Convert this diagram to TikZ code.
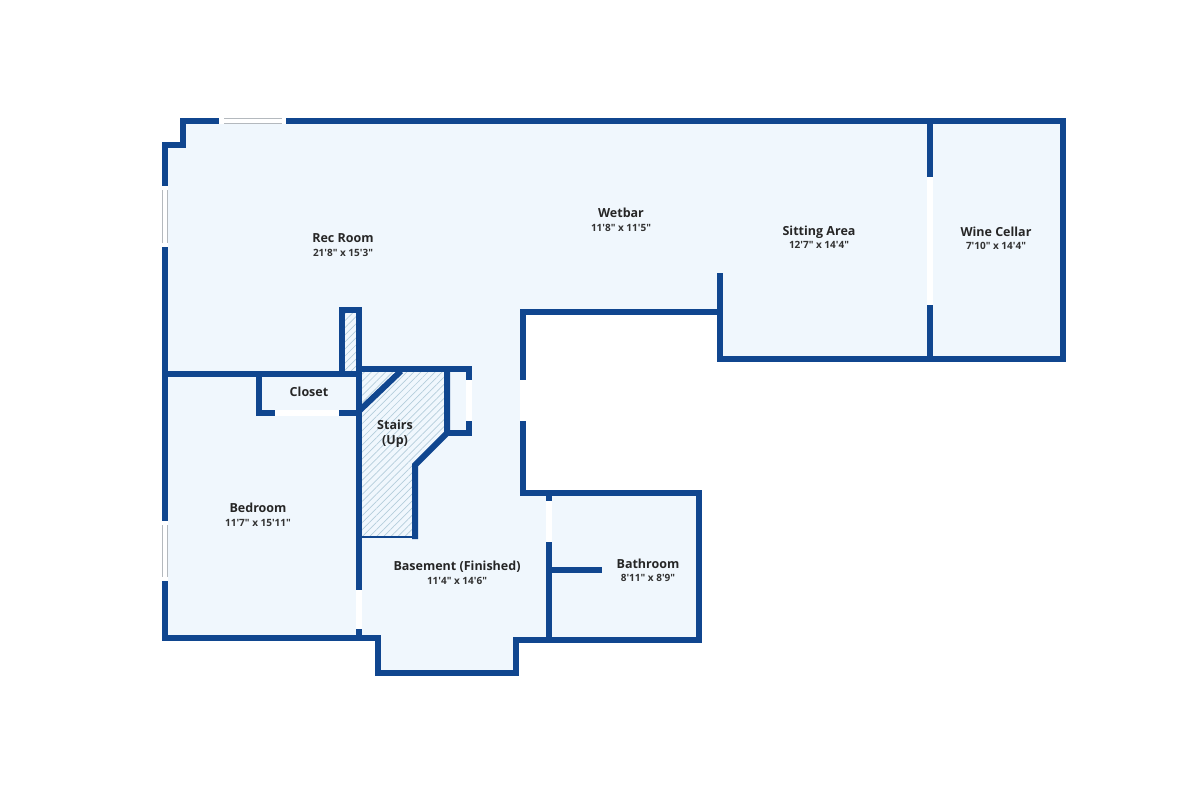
\documentclass[tikz,border=0pt]{standalone}
\usepackage{fontspec}
\setmainfont{Open Sans}[Ligatures=TeXOff]
\usetikzlibrary{patterns.meta}
\definecolor{wallblue}{HTML}{10468F}
\definecolor{floorblue}{HTML}{F0F7FD}
\definecolor{hatchblue}{HTML}{B4CEDB}
\definecolor{glassgrey}{HTML}{B4B9BE}
\tikzset{
  wall/.style={draw=wallblue,line width=6pt,line join=miter},
  thinwall/.style={draw=wallblue,line width=1.6pt},
  gap/.style={draw=white,line width=6.5pt},
  glass/.style={draw=glassgrey,line width=1pt,double=white,double distance=3.2pt},
  hatch/.style={pattern={Lines[angle=45,distance=5pt,line width=.7pt]},pattern color=hatchblue},
  room/.style={font=\fontsize{12.5}{14}\selectfont\bfseries,text=black!85,inner sep=0pt},
  size/.style={font=\fontsize{10}{11}\selectfont\bfseries,text=black!80,inner sep=0pt},
}
\begin{document}
\begin{tikzpicture}[x=1pt,y=-1pt]
\useasboundingbox (0,0) rectangle (1200,800);
\fill[white] (0,0) rectangle (1200,800);
%
\fill[floorblue] (183,121) -- (1063,121) -- (1063,359) -- (720,359) -- (720,312) -- (523,312) -- (523,493) -- (699,493) -- (699,640) -- (516,640) -- (516,673) -- (378,673) -- (378,638) -- (165,638) -- (165,145) -- (183,145) -- cycle;
%
\fill[hatch] (342,310) rectangle (359,374);
\fill[hatch] (359,369) -- (447,369) -- (447,433) -- (415,465) -- (415,537) -- (359,537) -- cycle;
%
\draw[wall] (720,273) -- (720,359) -- (1063,359) -- (1063,121) -- (183,121) -- (183,145) -- (165,145) -- (165,638) -- (378,638) -- (378,673) -- (516,673) -- (516,640) -- (699,640) -- (699,493) -- (523,493) -- (523,312) -- (720,312);
\draw[wall] (930,121) -- (930,359);
%
\draw[wall] (165,374) -- (359,374);
\draw[wall] (342,374) -- (342,310) -- (359,310);
\draw[wall] (359,307) -- (359,638);
\draw[wall] (259,374) -- (259,413) -- (359,413);
%
\draw[wall] (359,369) -- (469,369) -- (469,433) -- (447,433);
\draw[wall] (447,369) -- (447,433) -- (415,465) -- (415,539);
\draw[thinwall] (359,537) -- (415,537);
\draw[wall] (359,411) -- (401,371);
%
\draw[wall] (549,493) -- (549,640);
\draw[wall] (549,570) -- (602,570);
%
\draw[gap] (219,121) -- (286,121);
\draw[glass] (224,121) -- (282,121);
\draw[gap] (165,186) -- (165,247);
\draw[glass] (165,190) -- (165,243);
\draw[gap] (165,521) -- (165,581);
\draw[glass] (165,525) -- (165,577);
%
\draw[gap] (275,413) -- (339,413);
\draw[gap] (469,380) -- (469,421);
\draw[gap] (523,380) -- (523,421);
\draw[gap] (549,501) -- (549,542);
\draw[gap] (359,590) -- (359,629);
\draw[gap] (930,177) -- (930,305);
%
\node[room](recroom) at (343,238) {Rec Room};
\node[size](recsize) at (343,253) {21'8" x 15'3"};
%
\node[room](wetbar) at (621,213) {Wetbar};
\node[size](wetsize) at (621,228) {11'8" x 11'5"};
%
\node[room](sitting) at (819,232) {Sitting Area};
\node[size](sitsize) at (819,245) {12'7" x 14'4"};
%
\node[room](wine) at (996,232) {Wine Cellar};
\node[size](winesize) at (996,246) {7'10" x 14'4"};
%
\node[room](closet) at (309,391.5) {Closet};
%
\node[room](stairs) at (395,425) {Stairs};
\node[room](up) at (395,442) {(Up)};
%
\node[room](bedroom) at (258,508) {Bedroom};
\node[size](bedsize) at (258,523) {11'7" x 15'11"};
%
\node[room](basement) at (457,567) {Basement (Finished)};
\node[size](basesize) at (457,581) {11'4" x 14'6"};
%
\node[room](bathroom) at (648,563.5) {Bathroom};
\node[size](bathsize) at (648,578) {8'11" x 8'9"};
\end{tikzpicture}
\end{document}
